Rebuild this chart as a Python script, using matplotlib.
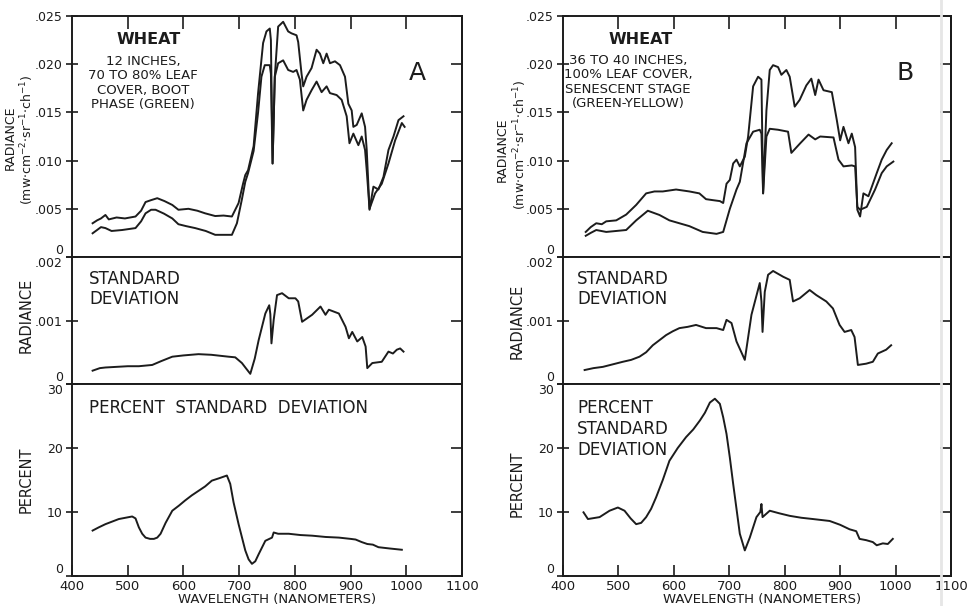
import matplotlib
matplotlib.use("Agg")
import matplotlib.pyplot as plt
from matplotlib.lines import Line2D

# ---------------- data ----------------
# Panel A (wheat, 12 in, boot phase) - radiance, two curves
A_up_wl = [437, 445, 452, 460, 466, 480, 495, 514, 524, 532, 542, 553, 566, 580, 591, 609, 625, 639, 657, 672,
           687, 699, 707, 711, 716, 726, 734, 743, 749, 755, 757, 760, 764, 770, 779, 788, 794, 803, 806, 812,
           815, 821, 830, 839, 845, 851, 857, 863, 872, 881, 890, 896, 902, 905, 911, 920, 926, 929, 934, 941,
           950, 959, 968, 977, 986, 995]
A_up_val = [.0035, .0038, .0040, .00436, .0039, .0041, .0040, .0042, .0048, .0057, .0059, .0061, .0058, .0054, .0049,
            .0050, .0048, .00453, .00425, .0043, .0042, .0056, .0076, .0085, .0090, .0115, .0170, .0222, .0234,
            .0237, .0225, .0097, .0187, .0239, .0244, .0234, .0232, .0230, .0223, .0190, .0177, .0187, .0196,
            .0215, .0211, .0201, .0211, .0201, .0203, .0199, .0187, .0159, .0152, .0135, .0137, .0149, .0135,
            .0111, .0049, .0073, .0070, .0083, .0111, .0125, .0142, .0146]
A_lo_wl = [437, 445, 452, 460, 471, 490, 514, 524, 532, 542, 550, 565, 580, 591, 605, 621, 640, 657, 672, 687,
           696, 705, 711, 716, 726, 734, 740, 746, 755, 757, 760, 764, 770, 779, 788, 797, 803, 809, 815, 821,
           830, 839, 848, 857, 863, 875, 884, 893, 898, 905, 914, 920, 926, 929, 934, 944, 956, 968, 980, 992, 997]
A_lo_val = [.00246, .0028, .0031, .0030, .0027, .0028, .0030, .0037, .00453, .0049, .0049, .0045, .0040, .0034,
            .0032, .0030, .0027, .0023, .0023, .0023, .0035, .0060, .0078, .0087, .0110, .0150, .0187, .0199,
            .0199, .0190, .0097, .0187, .0201, .0204, .0194, .0192, .0194, .0184, .0152, .0163, .0173, .0182,
            .0171, .0177, .0170, .0168, .0163, .0146, .0118, .0128, .0116, .0125, .0111, .0090, .0050, .0066,
            .0076, .0097, .0121, .0139, .0135]

# Panel B (wheat, 36-40 in, senescent) - radiance, two curves
B_up_wl = [441, 450, 460, 470, 478, 496, 514, 532, 550, 565, 580, 604, 628, 646, 658, 670, 683, 689, 695, 701,
           707, 713, 719, 728, 734, 743, 752, 758, 761, 767, 773, 779, 788, 794, 803, 809, 818, 827, 839, 848,
           855, 861, 870, 885, 894, 900, 906, 915, 921, 927, 931, 936, 942, 951, 966, 975, 984, 993]
B_up_val = [.0026, .0031, .0035, .0034, .0037, .0038, .0044, .0054, .0066, .0068, .0068, .0070, .0068, .0066, .0060,
            .0059, .0058, .0056, .0076, .0080, .0097, .0101, .0094, .0104, .0125, .0177, .0187, .0184, .0066,
            .0152, .0194, .0199, .0197, .0189, .0194, .0187, .0156, .0163, .0178, .0185, .0168, .0184, .0173,
            .0171, .0142, .0121, .0135, .0118, .0128, .0114, .0049, .0042, .0066, .0063, .0087, .0101, .0111, .0118]
B_lo_wl = [441, 450, 460, 478, 496, 514, 532, 553, 574, 592, 610, 628, 652, 677, 689, 701, 713, 719, 731, 743,
           755, 758, 761, 767, 773, 788, 806, 812, 828, 843, 855, 864, 888, 897, 906, 921, 927, 931, 936, 948,
           963, 975, 984, 996]
B_lo_val = [.0022, .0025, .0028, .0026, .0027, .0028, .0038, .0048, .00436, .0038, .0035, .0032, .0026, .0024,
            .0026, .0050, .0070, .0078, .0118, .0130, .0132, .0128, .0066, .0125, .0133, .0132, .0130, .0108,
            .0118, .0127, .0122, .0125, .0124, .0101, .0094, .0095, .0094, .0052, .0049, .0052, .0070, .0087,
            .0094, .0099]

# Standard deviation of radiance (units of 0.001)
A_sd_wl = [437, 450, 460, 480, 500, 520, 544, 560, 580, 600, 627, 650, 681, 693, 705, 712, 720, 728, 735, 747,
           754, 756, 758, 762, 768, 777, 789, 801, 806, 813, 831, 846, 855, 861, 879, 891, 897, 903, 912, 921,
           927, 930, 939, 956, 968, 976, 983, 989, 995]
A_sd_val = [0.21, 0.25, 0.26, 0.27, 0.28, 0.28, 0.30, 0.36, 0.43, 0.45, 0.47, 0.46, 0.43, 0.42, 0.33, 0.25, 0.16,
            0.40, 0.69, 1.11, 1.24, 1.10, 0.64, 1.01, 1.40, 1.43, 1.35, 1.35, 1.30, 0.98, 1.09, 1.22, 1.09, 1.17,
            1.11, 0.90, 0.72, 0.82, 0.67, 0.74, 0.59, 0.25, 0.33, 0.35, 0.51, 0.48, 0.54, 0.56, 0.51]
B_sd_wl = [439, 455, 472, 490, 508, 523, 538, 550, 562, 574, 586, 598, 610, 625, 640, 658, 677, 689, 695, 704,
           713, 728, 740, 755, 758, 760, 764, 770, 779, 797, 809, 815, 827, 845, 857, 875, 887, 899, 908, 920,
           926, 932, 947, 959, 968, 983, 992]
B_sd_val = [0.22, 0.25, 0.27, 0.31, 0.35, 0.38, 0.43, 0.50, 0.61, 0.69, 0.77, 0.83, 0.88, 0.90, 0.93, 0.88, 0.88,
            0.85, 1.01, 0.96, 0.67, 0.38, 1.09, 1.59, 1.30, 0.82, 1.45, 1.72, 1.78, 1.69, 1.64, 1.30, 1.35, 1.48,
            1.40, 1.30, 1.19, 0.93, 0.82, 0.85, 0.74, 0.30, 0.32, 0.35, 0.48, 0.54, 0.61]

# Percent standard deviation
A_pct_wl = [437, 448, 460, 472, 484, 496, 508, 514, 520, 526, 532, 540, 547, 553, 559, 568, 580, 592, 603, 615,
            627, 639, 651, 665, 678, 684, 690, 699, 711, 717, 723, 729, 735, 747, 759, 762, 770, 789, 810, 831,
            855, 879, 900, 909, 920, 930, 940, 950, 970, 992]
A_pct_val = [7.1, 7.6, 8.1, 8.5, 8.9, 9.1, 9.3, 9.0, 7.6, 6.6, 6.0, 5.8, 5.8, 6.0, 6.6, 8.3, 10.2, 11.0, 11.8,
             12.6, 13.3, 14.0, 14.9, 15.3, 15.7, 14.4, 11.5, 8.1, 4.0, 2.6, 1.9, 2.3, 3.4, 5.5, 6.0, 6.8, 6.6,
             6.6, 6.4, 6.3, 6.1, 6.0, 5.8, 5.7, 5.3, 5.0, 4.9, 4.5, 4.3, 4.1]
B_pct_wl = [437, 445, 466, 484, 499, 511, 522, 532, 541, 550, 559, 568, 580, 592, 607, 622, 635, 647, 656, 665,
            674, 683, 689, 695, 701, 707, 713, 719, 728, 737, 749, 756, 758, 760, 773, 790, 809, 830, 851, 881,
            900, 917, 929, 935, 947, 959, 966, 977, 986, 995]
B_pct_val = [9.95, 8.9, 9.2, 10.2, 10.7, 10.2, 9.0, 8.1, 8.3, 9.2, 10.5, 12.3, 15.0, 18.0, 20.0, 21.7, 22.9,
             24.3, 25.5, 27.1, 27.7, 26.9, 24.8, 22.2, 18.5, 14.4, 10.5, 6.6, 4.0, 6.0, 9.2, 10.0, 11.25, 9.2,
             10.2, 9.8, 9.4, 9.1, 8.9, 8.6, 8.0, 7.3, 7.0, 5.8, 5.6, 5.3, 4.8, 5.1, 5.0, 5.8]

# ticks / labels
x_ticks = [400, 500, 600, 700, 800, 900, 1000, 1100]
x_ticklabels = ["400", "500", "600", "700", "800", "900", "1000", "1100"]
rad_ticks = [0, 0.005, 0.010, 0.015, 0.020, 0.025]
rad_ticklabels = ["0", ".005", ".010", ".015", ".020", ".025"]
sd_ticks = [0, 0.001, 0.002]
sd_ticklabels = ["0", ".001", ".002"]
pct_ticks = [0, 10, 20, 30]
pct_ticklabels = ["0", "10", "20", "30"]

# ---------------- figure ----------------
W, H = 968, 606
fig = plt.figure(figsize=(W / 100, H / 100), dpi=100)
plt.rcParams['font.family'] = ['DejaVu Sans']
INK = '#1c1c1c'
LW = 1.4


def fx(px):
    return px / W


def fy(py):
    return 1 - py / H


def make_axes(left, right, top, bottom):
    return fig.add_axes([fx(left), fy(bottom), fx(right) - fx(left), (bottom - top) / H])


def style(ax, yticks, ylabels, ylim, pos):
    ax.set_xlim(400, 1100)
    ax.set_ylim(*ylim)
    for s in ax.spines.values():
        s.set_linewidth(1.4)
        s.set_color(INK)
    ax.set_yticks(yticks, ylabels)
    ax.tick_params(axis='y', direction='inout', length=9, width=1.2, color=INK, labelsize=9,
                   pad=2, labelcolor=INK)
    sec = ax.secondary_yaxis('right')
    sec.set_yticks(yticks)
    sec.tick_params(axis='y', direction='in', length=8, width=1.2, color=INK, labelright=False)
    sec.spines['right'].set_linewidth(1.4)
    if pos == 'top':
        ax.set_xticks(x_ticks[1:-1])
        ax.tick_params(axis='x', bottom=False, top=True, labelbottom=False, labeltop=False,
                       direction='in', length=9, width=1.2, color=INK)
    elif pos == 'mid':
        ax.tick_params(axis='x', bottom=False, top=False, labelbottom=False)
    else:
        ax.set_xticks(x_ticks, x_ticklabels)
        ax.tick_params(axis='x', direction='in', length=8, width=1.2, color=INK, labelsize=9.5,
                       pad=3, labelcolor=INK)


panels = [
    dict(left=72, right=462, up=(A_up_wl, A_up_val), lo=(A_lo_wl, A_lo_val),
         sd=(A_sd_wl, A_sd_val), pct=(A_pct_wl, A_pct_val)),
    dict(left=563, right=951, up=(B_up_wl, B_up_val), lo=(B_lo_wl, B_lo_val),
         sd=(B_sd_wl, B_sd_val), pct=(B_pct_wl, B_pct_val)),
]
Y_TOP, Y_M1, Y_M2, Y_BOT = 16, 257, 384, 576

for p in panels:
    ax1 = make_axes(p['left'], p['right'], Y_TOP, Y_M1)
    ax2 = make_axes(p['left'], p['right'], Y_M1, Y_M2)
    ax3 = make_axes(p['left'], p['right'], Y_M2, Y_BOT)
    ax1.plot(*p['up'], color=INK, lw=LW)
    ax1.plot(*p['lo'], color=INK, lw=LW)
    ax2.plot(p['sd'][0], [v * 0.001 for v in p['sd'][1]], color=INK, lw=LW)
    ax3.plot(*p['pct'], color=INK, lw=LW)
    style(ax1, rad_ticks, rad_ticklabels, (0, 0.025), 'top')
    style(ax2, sd_ticks, sd_ticklabels, (0, 0.002), 'mid')
    style(ax3, pct_ticks, pct_ticklabels, (0, 30), 'bot')
    # shift boundary labels so they do not collide
    ax1.yaxis.get_major_ticks()[0].label1.set_verticalalignment('bottom')
    ax2.yaxis.get_major_ticks()[2].label1.set_verticalalignment('top')
    ax2.yaxis.get_major_ticks()[0].label1.set_verticalalignment('bottom')
    ax3.yaxis.get_major_ticks()[3].label1.set_verticalalignment('top')
    ax3.yaxis.get_major_ticks()[0].label1.set_verticalalignment('bottom')

TXT = dict(color=INK)
units = r"(mw$\cdot$cm$^{-2}$$\cdot$sr$^{-1}$$\cdot$ch$^{-1}$)"

# ---- panel A text ----
fig.text(fx(149), fy(39), "WHEAT", ha='center', va='center', fontsize=11.5, fontweight='bold', **TXT)
fig.text(fx(143), fy(83), "12 INCHES,\n70 TO 80% LEAF\nCOVER, BOOT\nPHASE (GREEN)", ha='center', va='center',
         fontsize=9.5, linespacing=1.12, **TXT)
fig.text(fx(417), fy(73), "A", ha='center', va='center', fontsize=18, **TXT)
fig.text(fx(10), fy(138), "RADIANCE", rotation=90, ha='center', va='center', fontsize=9, **TXT)
fig.text(fx(27), fy(140), units, rotation=90, ha='center', va='center', fontsize=9, **TXT)
fig.text(fx(89), fy(289), "STANDARD\nDEVIATION", ha='left', va='center', fontsize=12, linespacing=1.15, **TXT)
fig.text(fx(26), fy(315), "RADIANCE", rotation=90, ha='center', va='center', fontsize=10.5, **TXT)
fig.text(fx(89), fy(408), "PERCENT  STANDARD  DEVIATION", ha='left', va='center', fontsize=12, **TXT)
fig.text(fx(26), fy(480), "PERCENT", rotation=90, ha='center', va='center', fontsize=10.5, **TXT)
fig.text(fx(277), fy(599), "WAVELENGTH (NANOMETERS)", ha='center', va='center', fontsize=9.5, **TXT)

# ---- panel B text ----
fig.text(fx(641), fy(40), "WHEAT", ha='center', va='center', fontsize=11.5, fontweight='bold', **TXT)
fig.text(fx(628), fy(82), "36 TO 40 INCHES,\n100% LEAF COVER,\nSENESCENT STAGE\n(GREEN-YELLOW)", ha='center',
         va='center', fontsize=9.5, linespacing=1.12, **TXT)
fig.text(fx(905), fy(73), "B", ha='center', va='center', fontsize=18, **TXT)
fig.text(fx(502), fy(150), "RADIANCE", rotation=90, ha='center', va='center', fontsize=9, **TXT)
fig.text(fx(520), fy(145), units, rotation=90, ha='center', va='center', fontsize=9, **TXT)
fig.text(fx(577), fy(289), "STANDARD\nDEVIATION", ha='left', va='center', fontsize=12, linespacing=1.15, **TXT)
fig.text(fx(517), fy(321), "RADIANCE", rotation=90, ha='center', va='center', fontsize=10.5, **TXT)
fig.text(fx(577), fy(429), "PERCENT\nSTANDARD\nDEVIATION", ha='left', va='center', fontsize=12,
         linespacing=1.2, **TXT)
fig.text(fx(517), fy(484), "PERCENT", rotation=90, ha='center', va='center', fontsize=10.5, **TXT)
fig.text(fx(762), fy(599), "WAVELENGTH (NANOMETERS)", ha='center', va='center', fontsize=9.5, **TXT)

# faint vertical scan line near the right edge
fig.add_artist(Line2D([fx(941), fx(941)], [0, 1], color='#e6e6e6', lw=2, zorder=10))

fig.savefig("out.png", dpi=100, facecolor='white')
